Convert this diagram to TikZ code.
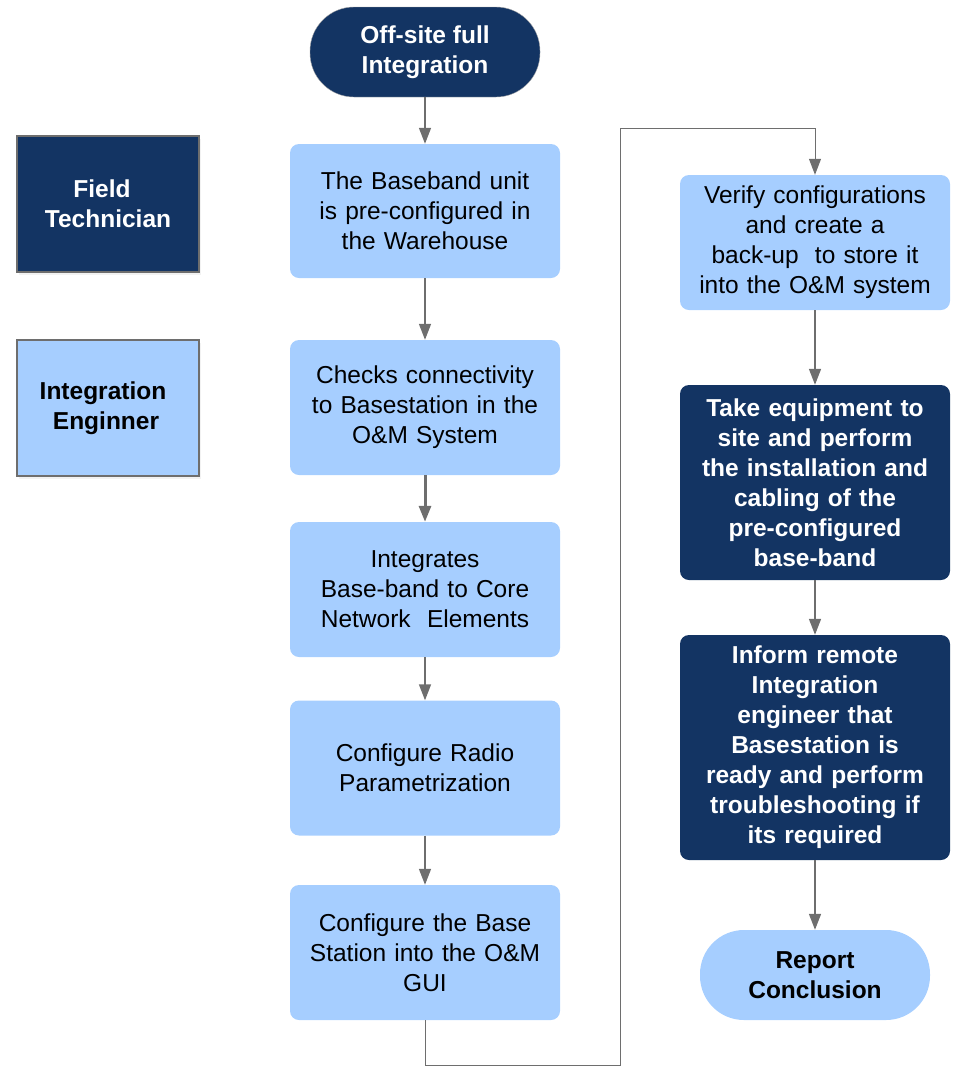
\documentclass[tikz,border=0pt]{standalone}
\usepackage{fontspec}
\setmainfont{Liberation Sans}
\usepackage{tikz}
\usetikzlibrary{arrows.meta,shadows}
\definecolor{navy}{RGB}{19,52,99}
\definecolor{sky}{RGB}{166,206,255}
\definecolor{wire}{RGB}{110,110,110}

\begin{document}
\begin{tikzpicture}[x=1pt, y=-1pt,
		font=\fontsize{24.5}{30}\selectfont,
		task/.style={rectangle, rounded corners=9pt, fill=sky, text=black, align=center,
			minimum width=270pt, inner sep=0pt, text width=262pt},
		dark/.style={task, fill=navy, text=white, font=\fontsize{24.5}{30}\selectfont\bfseries},
		term/.style={rectangle, rounded corners=44pt, align=center, inner sep=0pt,
			minimum width=230pt, minimum height=90pt, font=\fontsize{24.5}{30}\selectfont\bfseries},
		role/.style={rectangle, draw=wire, line width=1.2pt, align=center, inner sep=0pt,
			minimum width=182pt, minimum height=136pt, font=\fontsize{24.5}{30}\selectfont\bfseries,
			drop shadow={shadow xshift=1.5pt, shadow yshift=-3pt, opacity=0.1}},
		flow/.style={draw=wire, line width=1.5pt, -{Triangle[width=12pt,length=16pt]}},
		thinflow/.style={draw=wire, line width=1pt, -{Triangle[width=12pt,length=16pt]}}]
				\useasboundingbox (0,0) rectangle (962,1080);
				% roles
				\node[role, fill=navy, text=white] (tech) at (108,204) {\hspace*{-12pt}Field\\Technician};
				\node[role, fill=sky] (eng) at (108,408) {\hspace*{-10pt}Integration\\\hspace*{6pt}Enginner\hspace*{10pt}};
				% first column
				\node[term, fill=navy, text=white, draw=wire!60] (start) at (425,52) {Off-site full\\Integration};
				\node[task, minimum height=134pt] (ware) at (425,211) {The Baseband unit\\is pre-configured in\\the Warehouse};
				\node[task, minimum height=135pt] (conn) at (425,407.5) {Checks connectivity\\to Basestation in the\\O\&M System};
				\node[task, minimum height=135pt] (core) at (425,589.5) {Integrates\\Base-band to Core\\Network\ \ Elements};
				\node[task, minimum height=135pt] (radio) at (425,768) {Configure Radio\\Parametrization};
				\node[task, minimum height=135pt] (gui) at (425,952.5) {Configure the Base\\Station into the O\&M\\GUI};
				% second column
				\node[task, minimum height=135pt] (verify) at (815,242.5) {Verify configurations\\and create a\\back-up\ \ to store it\\into the O\&M system};
				\node[dark, minimum height=195pt] (site) at (815,482.5) {Take equipment to\\site and perform\\the installation and\\cabling of the\\pre-configured\\base-band};
				\node[dark, minimum height=225pt] (inform) at (815,747.5) {Inform remote\\Integration\\engineer that\\Basestation is\\ready and perform\\troubleshooting if\\its required};
				\node[term, fill=sky, text=black] (report) at (815,975) {Report\\Conclusion};
				% connectors
				\coordinate (bendA) at (620,1065);
				\coordinate (bendB) at (620,128);
				\draw[flow] (start) -- (ware);
				\draw[flow] (ware) -- (conn);
				\draw[flow, line width=3pt] (conn) -- (core);
				\draw[flow] (core) -- (radio);
				\draw[flow] (radio) -- (gui);
				\draw[thinflow] (gui.south) |- (bendA) -- (bendB) -| (verify.north);
				\draw[flow] (verify) -- (site);
				\draw[flow] (site) -- (inform);
				\draw[flow] (inform) -- (report);
			\end{tikzpicture}
\end{document}
